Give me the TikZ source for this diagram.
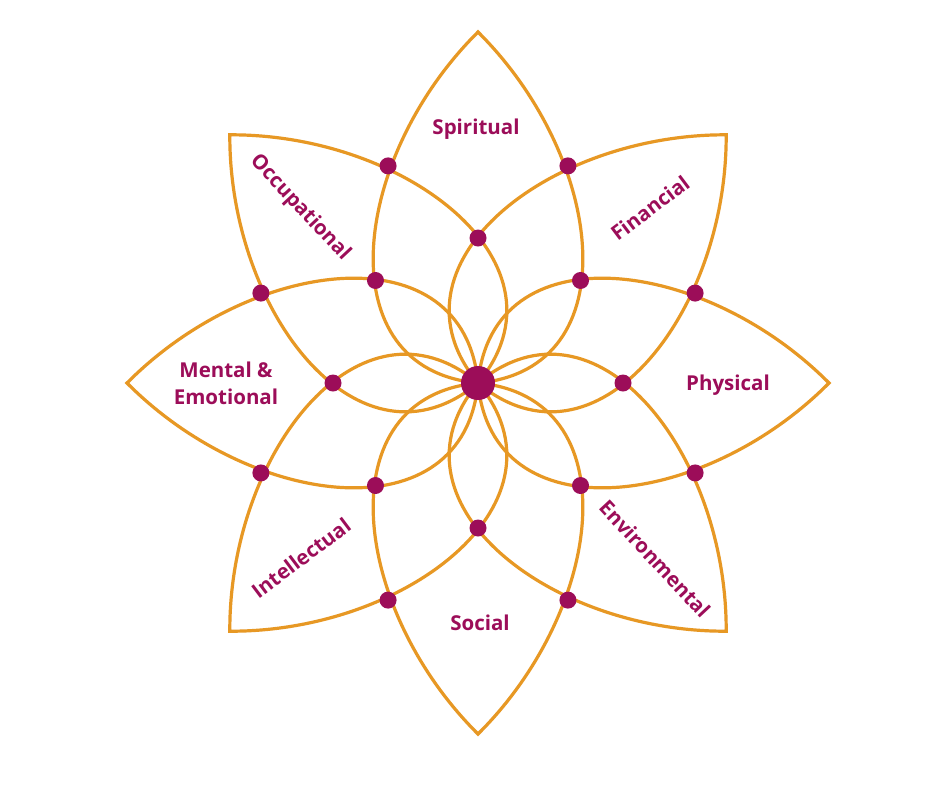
\documentclass[tikz,border=0pt]{standalone}
\usepackage{fontspec}
\setmainfont{Open Sans}
\definecolor{petalc}{RGB}{231,152,36}
\definecolor{berry}{RGB}{156,13,89}
\tikzset{
  petaledge/.style={draw=petalc, line width=3.2pt},
  dot/.style={fill=berry},
  lbl/.style={text=berry, font=\bfseries\fontsize{20.5}{27}\selectfont, align=center, inner sep=0pt}
}
\begin{document}
\begin{tikzpicture}[x=1pt,y=-1pt]
\useasboundingbox[fill=white] (0,0) rectangle (940,788);
\begin{scope}[shift={(478,383)}]
  \foreach \k in {0,...,7}{
    \path[petaledge, rotate=45*\k]
      (0,0) .. controls (14,152) and (225,127) .. (351,0)
            .. controls (225,-127) and (14,-152) .. cycle;
  }
  \foreach \k in {0,...,7}{
    \fill[dot] (45*\k:145) circle[radius=8.5pt];
    \fill[dot] (22.5+45*\k:235) circle[radius=8.5pt];
  }
  \fill[dot] (0,0) circle[radius=17pt];
\end{scope}
\node[lbl] (spiritual) at (476,129) {Spiritual};
\node[lbl, rotate=37] (financial) at (650,208) {Financial};
\node[lbl, rotate=-47] (occupational) at (300,208) {Occupational};
\node[lbl] (mental) at (226,383) {Mental \&\\Emotional};
\node[lbl] (physical) at (728,385) {Physical};
\node[lbl, rotate=-47] (environmental) at (655,559) {Environmental};
\node[lbl] (social) at (480,623) {Social};
\node[lbl, rotate=37] (intellectual) at (301,558) {Intellectual};
\end{tikzpicture}
\end{document}
